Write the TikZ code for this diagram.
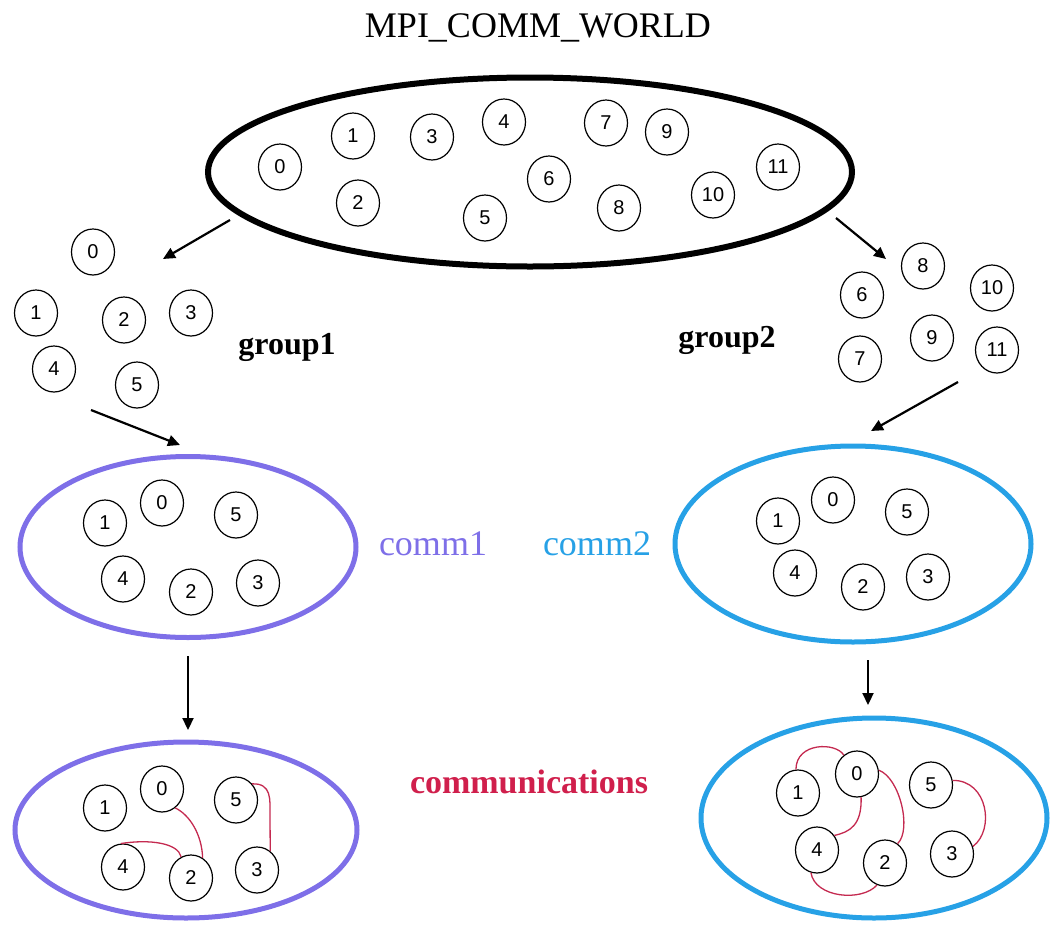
\documentclass[tikz,border=0pt]{standalone}
\usepackage{fontspec}
\setmainfont{Liberation Serif}
\newfontfamily\digitfont{Liberation Sans}
\usetikzlibrary{shapes.geometric,arrows.meta}
\definecolor{commpurple}{HTML}{7E6FE8}
\definecolor{commblue}{HTML}{27A1E6}
\definecolor{commred}{HTML}{D01F4C}
\definecolor{linkred}{HTML}{C42A50}
\begin{document}
\begin{tikzpicture}[x=1pt,y=-1pt,
  proc/.style={draw=black,line width=1.2pt,ellipse,minimum width=43pt,minimum height=46pt,inner sep=0pt,font=\digitfont\fontsize{20}{20}\selectfont},
  world/.style={draw=black,ellipse,line width=6pt,minimum width=644pt,minimum height=189pt,inner sep=0pt},
  commring/.style={ellipse,line width=5pt,inner sep=0pt},
  arr/.style={line width=2.2pt,-{Triangle[length=12pt,width=11pt]}},
  link/.style={draw=linkred,line width=1.3pt},
  grouplabel/.style={font=\bfseries\fontsize{32}{32}\selectfont,anchor=base,inner sep=0pt},
  commlabel/.style={font=\fontsize{36}{36}\selectfont,anchor=base,inner sep=0pt}]
\useasboundingbox (0,0) rectangle (1053,927);

% title
\node[font=\fontsize{36}{36}\selectfont,anchor=base,inner sep=0pt] (title) at (538,37) {MPI\_COMM\_WORLD};

% world
\node[world] (W) at (530,172) {};
\node[proc] (w0) at (280,167) {0};
\node[proc] (w1) at (353,136) {1};
\node[proc] (w2) at (358,203) {2};
\node[proc] (w3) at (432,137) {3};
\node[proc] (w4) at (504,122) {4};
\node[proc] (w5) at (485,218) {5};
\node[proc] (w6) at (549,179) {6};
\node[proc] (w7) at (606,123) {7};
\node[proc] (w8) at (619,208) {8};
\node[proc] (w9) at (667,132) {9};
\node[proc] (w10) at (713,195) {10};
\node[proc] (w11) at (778,167) {11};

% group1
\node[proc] (g0) at (93,252) {0};
\node[proc] (g1) at (36,313) {1};
\node[proc] (g2) at (124,320) {2};
\node[proc] (g3) at (191,313) {3};
\node[proc] (g4) at (54,369) {4};
\node[proc] (g5) at (137,385) {5};
\node[grouplabel] (lg1) at (287,354) {group1};

% group2
\node[proc] (h6) at (862,295) {6};
\node[proc] (h7) at (860,359) {7};
\node[proc] (h8) at (923,266) {8};
\node[proc] (h9) at (932,338) {9};
\node[proc] (h10) at (992,288) {10};
\node[proc] (h11) at (997,350) {11};
\node[grouplabel] (lg2) at (727,347) {group2};

% comm1
\node[commring,draw=commpurple,minimum width=336pt,minimum height=181pt] (C1) at (188,547) {};
\node[proc] (c0) at (162,503) {0};
\node[proc] (c1) at (105,523) {1};
\node[proc] (c2) at (191,592) {2};
\node[proc] (c3) at (258,583) {3};
\node[proc] (c4) at (123,579) {4};
\node[proc] (c5) at (236,515) {5};
\node[commlabel,text=commpurple] (lc1) at (433,555) {comm1};

% comm2
\node[commring,draw=commblue,minimum width=356pt,minimum height=196pt] (C2) at (853,544) {};
\node[proc] (k0) at (833,500) {0};
\node[proc] (k1) at (778,521) {1};
\node[proc] (k2) at (863,587) {2};
\node[proc] (k3) at (928,577) {3};
\node[proc] (k4) at (795,573) {4};
\node[proc] (k5) at (907,512) {5};
\node[commlabel,text=commblue] (lc2) at (597,555) {comm2};

% communications, left
\node[commring,draw=commpurple,minimum width=342pt,minimum height=176pt] (D1) at (186,830) {};
\node[proc] (L0) at (162,789) {0};
\node[proc] (L1) at (105,808) {1};
\node[proc] (L2) at (191,878) {2};
\node[proc] (L3) at (257,870) {3};
\node[proc] (L4) at (123,867) {4};
\node[proc] (L5) at (236,800) {5};

% communications, right
\node[commring,draw=commblue,minimum width=346pt,minimum height=200pt] (D2) at (874,818) {};
\node[proc] (R0) at (857,774) {0};
\node[proc] (R1) at (798,793) {1};
\node[proc] (R2) at (885,863) {2};
\node[proc] (R3) at (952,854) {3};
\node[proc] (R4) at (817,850) {4};
\node[proc] (R5) at (931,785) {5};

\node[font=\bfseries\fontsize{34}{34}\selectfont,text=commred,anchor=base,inner sep=0pt] (lcm) at (529,793) {communications};

% arrows
\coordinate (a1s) at (230,220); \coordinate (a1e) at (163,259);
\coordinate (a2s) at (836,218); \coordinate (a2e) at (886,259);
\coordinate (a3s) at (91,410);  \coordinate (a3e) at (180,445);
\coordinate (a4s) at (958,382); \coordinate (a4e) at (871,431);
\coordinate (a5s) at (188,656); \coordinate (a5e) at (188,730);
\coordinate (a6s) at (868,660); \coordinate (a6e) at (868,705);
\draw[arr] (a1s) -- (a1e);
\draw[arr] (a2s) -- (a2e);
\draw[arr] (a3s) -- (a3e);
\draw[arr] (a4s) -- (a4e);
\draw[arr] (a5s) -- (a5e);
\draw[arr] (a6s) -- (a6e);

% links, left
\draw[link] (L0.-55) .. controls (190,815) and (202,835) .. (L2.60);
\draw[link] (L4.95) .. controls (150,839) and (178,843) .. (L2.115);
\draw[link] (L5.45) .. controls (272,783) and (270,800) .. (270,815) -- (L3.55);

% links, right
\draw[link] (R1.95) .. controls (796,742) and (836,742) .. (R0.125);
\draw[link] (R0.-80) .. controls (862,825) and (850,832) .. (R4.40);
\draw[link] (R0.10) .. controls (900,778) and (912,830) .. (R2.57);
\draw[link] (R4.-105) .. controls (815,898) and (862,902) .. (R2.-110);
\draw[link] (R5.12) .. controls (988,780) and (995,830) .. (R3.20);
\end{tikzpicture}
\end{document}
